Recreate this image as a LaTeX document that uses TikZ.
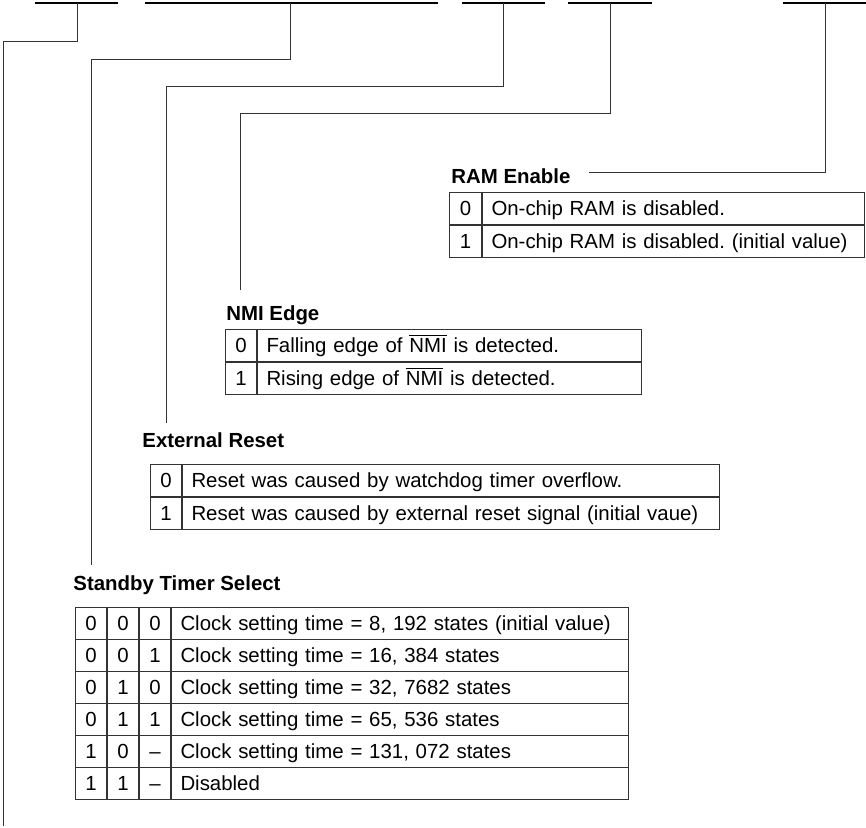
\documentclass[tikz,border=0pt]{standalone}
\usepackage{fontspec}
\setmainfont{Liberation Sans}
\usetikzlibrary{positioning}
\frenchspacing

\tikzset{
  regbar/.style={line width=0.75pt},
  lead/.style={line width=0.5pt, black!80},
  title/.style={font=\fontsize{10.2}{12}\selectfont\bfseries, anchor=base west, inner sep=0pt},
  codecell/.style={draw=black!80, line width=0.5pt, minimum width=15.5pt, minimum height=16pt,
    inner sep=0pt, anchor=north west, text height=7.5pt, text depth=0.5pt},
  desccell/.style={draw=black!80, line width=0.5pt, minimum height=16pt, inner xsep=4.5pt,
    inner ysep=0pt, anchor=north west, text height=7.5pt, text depth=0.5pt, align=left, text width=#1}
}

\begin{document}
\begin{tikzpicture}[x=0.5pt, y=-0.5pt, every node/.style={font=\fontsize{10.2}{12}\selectfont}]
        \useasboundingbox (0,0) rectangle (866,828);

        % register bit fields
        \foreach \a/\b in {35/118, 145/438, 462/545, 568/652, 783/866}
            \draw[regbar] (\a,3) -- (\b,3);
        \coordinate (b7) at (77,3);
        \coordinate (b64) at (290,3);
        \coordinate (b3) at (503,3);
        \coordinate (b2) at (610,3);
        \coordinate (b0) at (825,3);

        % titles
        \node[title] (ramtitle) at (451,183.5) {RAM Enable};
        \node[title] (nmititle) at (226,321) {NMI Edge};
        \node[title] (ertitle) at (142,447.5) {External Reset};
        \node[title] (sbytitle) at (73,590) {Standby Timer Select};

        % RAM Enable
        \node[codecell, minimum width=16pt] (ram0n) at (449,192) {0};
        \node[desccell=182pt] (ram0t) at (ram0n.north east) {On-chip RAM is disabled.};
        \node[codecell, minimum width=16pt] (ram1n) at (ram0n.south west) {1};
        \node[desccell=182pt] (ram1t) at (ram1n.north east) {On-chip RAM is disabled. (initial value)};

        % NMI Edge
        \node[codecell] (nmi0n) at (225,329) {0};
        \node[desccell=183pt] (nmi0t) at (nmi0n.north east) {Falling edge of $\overline{\mbox{NMI}}$ is detected.};
        \node[codecell] (nmi1n) at (nmi0n.south west) {1};
        \node[desccell=183pt] (nmi1t) at (nmi1n.north east) {Rising edge of $\overline{\mbox{NMI}}$ is detected.};

        % External Reset
        \node[codecell] (er0n) at (150,464) {0};
        \node[desccell=259.5pt] (er0t) at (er0n.north east) {Reset was caused by watchdog timer overflow.};
        \node[codecell] (er1n) at (er0n.south west) {1};
        \node[desccell=259.5pt] (er1t) at (er1n.north east) {Reset was caused by external reset signal (initial vaue)};

        % Standby Timer Select
        \foreach \a/\b/\c/\txt [count=\i from 0] in {
            0/0/0/{Clock setting time = 8, 192 states (initial value)},
            0/0/1/{Clock setting time = 16, 384 states},
            0/1/0/{Clock setting time = 32, 7682 states},
            0/1/1/{Clock setting time = 65, 536 states},
            1/0/\textendash/{Clock setting time = 131, 072 states},
            1/1/\textendash/{Disabled}} {
            \node[codecell] (sbya\i) at (75,{607+32*\i}) {\a};
            \node[codecell] (sbyb\i) at (sbya\i.north east) {\b};
            \node[codecell] (sbyc\i) at (sbyb\i.north east) {\c};
            \node[desccell=219.5pt] (sbyt\i) at (sbyc\i.north east) {\txt};
        }

        % leads from the bit fields
        \coordinate (k7) at (3,42);
        \coordinate (e7) at (3,826);
        \coordinate (k64) at (91,60);
        \coordinate (e64) at (91,565);
        \coordinate (k3) at (166,87);
        \coordinate (e3) at (166,423);
        \coordinate (k2) at (240,114);
        \coordinate (e2) at (240,290);
        \coordinate (ramend) at (589,173);
        \draw[lead] (b7) |- (k7) -- (e7);
        \draw[lead] (b64) |- (k64) -- (e64);
        \draw[lead] (b3) |- (k3) -- (e3);
        \draw[lead] (b2) |- (k2) -- (e2);
        \draw[lead] (b0) |- (ramend);
    \end{tikzpicture}
\end{document}
